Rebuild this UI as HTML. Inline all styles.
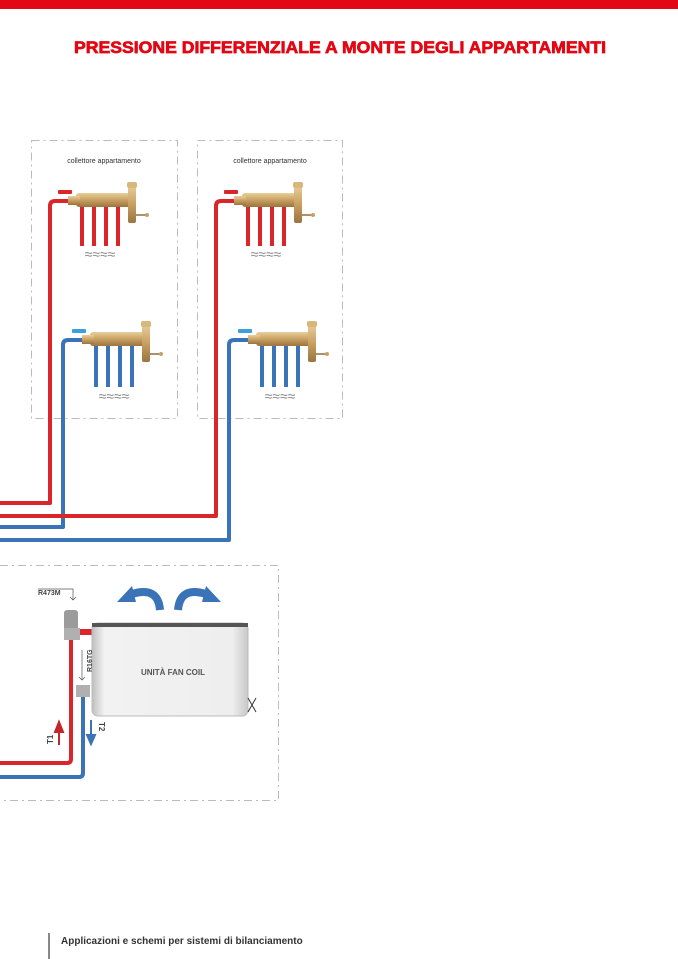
<!DOCTYPE html>
<html><head><meta charset="utf-8"><style>
html,body{margin:0;padding:0;background:#fff;}
svg{display:block}
text{font-family:"Liberation Sans",sans-serif}
</style></head><body>
<svg width="678" height="959" viewBox="0 0 678 959" xmlns="http://www.w3.org/2000/svg">
<defs>
<linearGradient id="brass" x1="0" y1="0" x2="0" y2="1"><stop offset="0" stop-color="#e8cf9a"/><stop offset="0.5" stop-color="#c9a062"/><stop offset="1" stop-color="#9a7440"/></linearGradient>
<linearGradient id="fc" x1="0" y1="0" x2="1" y2="0"><stop offset="0" stop-color="#bfbfbf"/><stop offset="0.08" stop-color="#f2f2f2"/><stop offset="0.9" stop-color="#eeeeee"/><stop offset="1" stop-color="#c8c8c8"/></linearGradient>
<g id="man">
 <rect x="0" y="0" width="58" height="14" rx="3" fill="url(#brass)"/>
 <rect x="-8" y="3" width="12" height="9" fill="url(#brass)"/>
 <rect x="52" y="-8" width="8" height="38" rx="2" fill="url(#brass)"/>
 <rect x="51" y="-11" width="10" height="6" rx="2" fill="#d8b77a"/>
 <line x1="60" y1="22" x2="70" y2="22" stroke="#8a6a40" stroke-width="1.5"/>
 <circle cx="71" cy="22" r="2" fill="#c9a062"/>
</g>
</defs>
<rect x="0" y="0" width="678" height="9" fill="#e30613"/>
<text x="340" y="53" text-anchor="middle" font-size="17" font-weight="bold" fill="#e30613" stroke="#e30613" stroke-width="0.7" textLength="532" lengthAdjust="spacingAndGlyphs">PRESSIONE DIFFERENZIALE A MONTE DEGLI APPARTAMENTI</text>

<g fill="none" stroke="#bbb" stroke-width="1" stroke-dasharray="8,4,2,4">
<rect x="31.5" y="140.5" width="146" height="278"/>
<rect x="197.5" y="140.5" width="145" height="278"/>
<path d="M0 565.5 H278.5 V800.5 H0"/>
</g>
<text x="104" y="163" text-anchor="middle" font-size="7" fill="#333">collettore appartamento</text>
<text x="270" y="163" text-anchor="middle" font-size="7" fill="#333">collettore appartamento</text>

<g fill="none" stroke-width="4" stroke-linejoin="round">
<path d="M76 201 H55 Q50 201 50 206 V503 H0" stroke="#d8262b"/>
<path d="M90 340 H68 Q63 340 63 345 V527 H0" stroke="#3a73b8"/>
<path d="M242 201 H221 Q216 201 216 206 V516 H0" stroke="#d8262b"/>
<path d="M256 340 H234 Q229 340 229 345 V540 H0" stroke="#3a73b8"/>
</g>

<g stroke="#d8262b" stroke-width="4">
<line x1="82" y1="206" x2="82" y2="246"/><line x1="94" y1="206" x2="94" y2="246"/><line x1="106" y1="206" x2="106" y2="246"/><line x1="118" y1="206" x2="118" y2="246"/>
<line x1="248" y1="206" x2="248" y2="246"/><line x1="260" y1="206" x2="260" y2="246"/><line x1="272" y1="206" x2="272" y2="246"/><line x1="284" y1="206" x2="284" y2="246"/>
</g>
<g stroke="#3a73b8" stroke-width="4">
<line x1="96" y1="346" x2="96" y2="387"/><line x1="108" y1="346" x2="108" y2="387"/><line x1="120" y1="346" x2="120" y2="387"/><line x1="132" y1="346" x2="132" y2="387"/>
<line x1="262" y1="346" x2="262" y2="387"/><line x1="274" y1="346" x2="274" y2="387"/><line x1="286" y1="346" x2="286" y2="387"/><line x1="298" y1="346" x2="298" y2="387"/>
</g>
<use href="#man" x="76" y="193"/>
<use href="#man" x="242" y="193"/>
<use href="#man" x="90" y="332"/>
<use href="#man" x="256" y="332"/>
<g fill="#d8262b"><rect x="58" y="190" width="14" height="4" rx="1"/><rect x="224" y="190" width="14" height="4" rx="1"/></g>
<g fill="#3aa0dd"><rect x="72" y="329" width="14" height="4" rx="1"/><rect x="238" y="329" width="14" height="4" rx="1"/></g>
<g font-size="14" fill="#888" text-anchor="middle">
<text x="100" y="259">≈≈≈≈</text><text x="266" y="259">≈≈≈≈</text>
<text x="114" y="401">≈≈≈≈</text><text x="280" y="401">≈≈≈≈</text>
</g>

<g fill="none" stroke-width="4" stroke-linejoin="round">
<path d="M0 763 H67 Q71 763 71 759 V640" stroke="#d8262b"/>
<path d="M0 777 H79 Q83 777 83 773 V695" stroke="#3a73b8"/>
<path d="M72 632 H95" stroke="#d8262b" stroke-width="6"/>
</g>
<rect x="64" y="610" width="14" height="24" rx="3" fill="#9b9b9b"/>
<rect x="64" y="628" width="16" height="12" fill="#b0b0b0"/>
<rect x="76" y="685" width="14" height="12" fill="#b0b0b0"/>
<rect x="92" y="623" width="156" height="93" rx="6" fill="url(#fc)" stroke="#bbb"/>
<rect x="92" y="623" width="156" height="4" fill="#555"/>
<text x="173" y="675" text-anchor="middle" font-size="8" font-weight="bold" fill="#555">UNITÀ FAN COIL</text>
<path d="M248 698 L252 705 L248 712 M256 698 L252 705 L256 712" stroke="#333" fill="none"/>
<g fill="none" stroke="#3a73b8" stroke-width="8">
<path d="M160 610 Q158 586 132 594"/>
<path d="M178 610 Q180 586 206 594"/>
</g>
<g fill="#3a73b8">
<path d="M117 602 L132 586 L136 602 Z"/>
<path d="M221 602 L206 586 L202 602 Z"/>
</g>
<text x="38" y="595" font-size="7" font-weight="bold" fill="#444">R473M</text>
<path d="M38 589 H73 V600 M70 597 L73 600 L76 597" stroke="#555" fill="none" stroke-width="0.7"/>
<text transform="translate(92,672) rotate(-90)" font-size="7" font-weight="bold" fill="#444">R16TG</text>
<path d="M82 650 V680 M79 677 L82 680 L85 677" stroke="#555" fill="none" stroke-width="0.7"/>
<text transform="translate(53,744) rotate(-90)" font-size="8" font-weight="bold" fill="#444">T1</text>
<text transform="translate(99,722) rotate(90)" font-size="8" font-weight="bold" fill="#444">T2</text>
<path d="M59 745 V728 M55 732 L59 722 L63 732 Z" stroke="#c0262b" stroke-width="2" fill="#c0262b"/>
<path d="M91 720 V737 M87 735 L91 744 L95 735 Z" stroke="#3a73b8" stroke-width="2" fill="#3a73b8"/>

<rect x="48" y="933" width="2" height="26" fill="#888"/>
<text x="61" y="944" font-size="10" font-weight="bold" fill="#333">Applicazioni e schemi per sistemi di bilanciamento</text>
</svg>
</body></html>
